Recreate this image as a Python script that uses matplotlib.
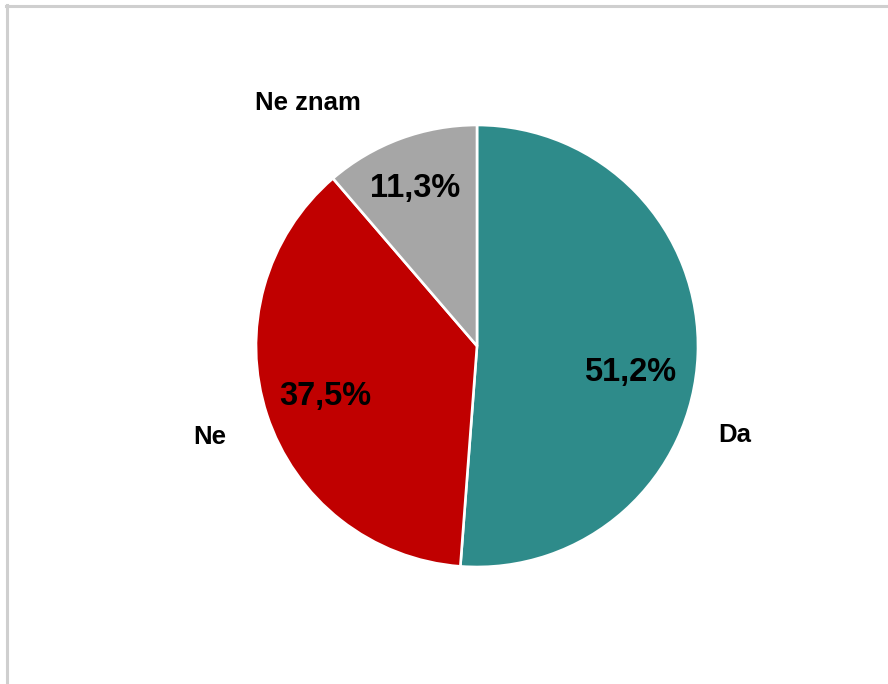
import matplotlib
matplotlib.use("Agg")
from matplotlib import pyplot as plt
from matplotlib.lines import Line2D

labels = ['Da', 'Ne', 'Ne znam']
values = [51.2, 37.5, 11.3]
colors = ['#2E8B8A', '#C00000', '#A6A6A6']

# label placement (pie radius = 1)
label_pos = [(1.167, -0.403), (-1.208, -0.412), (-0.765, 1.100)]
pct_pos = [(0.692, -0.122), (-0.688, -0.228), (-0.281, 0.712)]

plt.rcParams['font.family'] = ['Liberation Sans', 'DejaVu Sans']

fig = plt.figure(figsize=(8.88, 6.84), dpi=100)
ax = fig.add_axes([256/888, 117/684, 442/888, 442/684])

wedges, texts, autotexts = ax.pie(
    values, colors=colors, startangle=90, counterclock=False,
    autopct=lambda p: f'{p:.1f}%'.replace('.', ','),
    wedgeprops=dict(edgecolor='white', linewidth=1.9),
    textprops=dict(fontsize=23.5, fontweight='bold', color='black'))

for t, (x, y) in zip(autotexts, pct_pos):
    t.set_position((x, y))
    t.set_ha('center')
    t.set_va('center')

for lab, (x, y) in zip(labels, label_pos):
    ax.text(x, y, lab, ha='center', va='center', fontsize=18.5, fontweight='bold')

ax.set_xlim(-1, 1)
ax.set_ylim(-1, 1)
ax.set_aspect('equal')
ax.axis('off')

# frame (only top and left edges visible)
fig.add_artist(Line2D([6/888, 1], [1 - 5.8/684, 1 - 5.8/684], color='#CFCFCF', linewidth=2.2))
fig.add_artist(Line2D([7.2/888, 7.2/888], [0, 1 - 4.5/684], color='#CFCFCF', linewidth=2.2))

fig.savefig('out.png', dpi=100, facecolor='white')
